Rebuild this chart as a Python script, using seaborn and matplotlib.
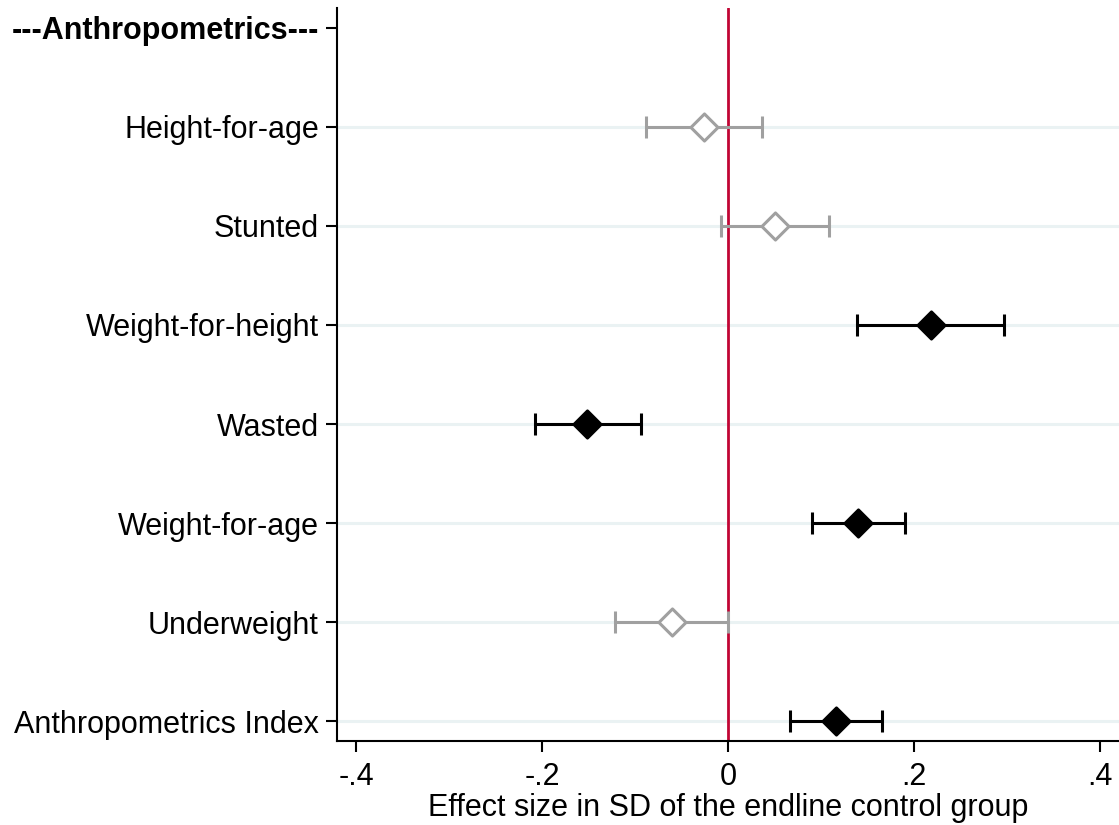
import matplotlib
matplotlib.use("Agg")
import matplotlib.pyplot as plt
import matplotlib.ticker as mticker
import numpy as np
import pandas as pd
import seaborn as sns

LABELS = ["---Anthropometrics---", "Height-for-age", "Stunted", "Weight-for-height",
          "Wasted", "Weight-for-age", "Underweight", "Anthropometrics Index"]
# header row has no estimate
OUTCOMES = LABELS[1:]
ESTIMATE = [-0.026, 0.0505, 0.218, -0.1516, 0.1398, -0.0602, 0.116]
CI_LOW = [-0.088, -0.0075, 0.1387, -0.2075, 0.0903, -0.1215, 0.0667]
CI_HIGH = [0.0366, 0.1086, 0.297, -0.0936, 0.1903, 0.0, 0.1656]
XTICKS = [-0.4, -0.2, 0, 0.2, 0.4]

RED = "#c10534"
GRAY = "#a0a0a0"
GRID = "#eaf2f3"
FS = 22

sns.set_theme(style="white")
plt.rcParams["font.family"] = ["Liberation Sans", "DejaVu Sans"]
for key in ["text.color", "axes.labelcolor", "xtick.color", "ytick.color"]:
    plt.rcParams[key] = "black"

df = pd.DataFrame({"outcome": OUTCOMES, "est": ESTIMATE, "lo": CI_LOW, "hi": CI_HIGH})
df["pos"] = [LABELS.index(o) for o in df["outcome"]]
# significant when the CI doesn't include zero (touching counts as not significant)
df["sig"] = (df["lo"] > 0) | (df["hi"] < 0)

fig = plt.figure(figsize=(11.19, 8.25), dpi=100)
ax = fig.add_axes([337 / 1119, 84 / 825, (1119 - 337) / 1119, (741 - 8) / 825])

for p in range(len(LABELS)):
    if p == 0: continue
    ax.axhline(p, color=GRID, lw=2.2, zorder=0)

ax.axvline(0, color=RED, lw=2, zorder=1)

for sig, color, face in [(False, GRAY, "white"), (True, "black", "black")]:
    sub = df[df["sig"] == sig]
    ax.errorbar(sub["est"], sub["pos"], xerr=[sub["est"] - sub["lo"], sub["hi"] - sub["est"]],
                fmt="none", ecolor=color, elinewidth=2.2, capsize=8, capthick=2.2, zorder=2)
    sns.scatterplot(data=sub, x="est", y="pos", marker="D", s=190, color=face,
                    edgecolor=color, linewidth=2.2, ax=ax, zorder=3, legend=False)

ax.set_xlim(-0.4204, 0.4204)
ax.set_ylim(7.2, -0.2)
ax.set_yticks(range(len(LABELS)))
ax.set_yticklabels(LABELS, fontsize=FS)
ax.get_yticklabels()[0].set_fontweight("bold")
ax.set_xticks(XTICKS)
ax.xaxis.set_major_formatter(mticker.FuncFormatter(
    lambda x, pos: "0" if abs(x) < 1e-9 else ("{:.1f}".format(x)).replace("0.", ".")))
ax.tick_params(axis="both", labelsize=FS, length=8, width=1.5, color="black",
               direction="out", left=True, bottom=True)
ax.tick_params(axis="y", pad=5)
ax.tick_params(axis="x", pad=7)
ax.set_xlabel("Effect size in SD of the endline control group", fontsize=FS, labelpad=1)
ax.set_ylabel("")

for side in ["top", "right"]:
    ax.spines[side].set_visible(False)
for side in ["left", "bottom"]:
    ax.spines[side].set_color("black")
    ax.spines[side].set_linewidth(1.5)

plt.savefig("out.png", dpi=100)
